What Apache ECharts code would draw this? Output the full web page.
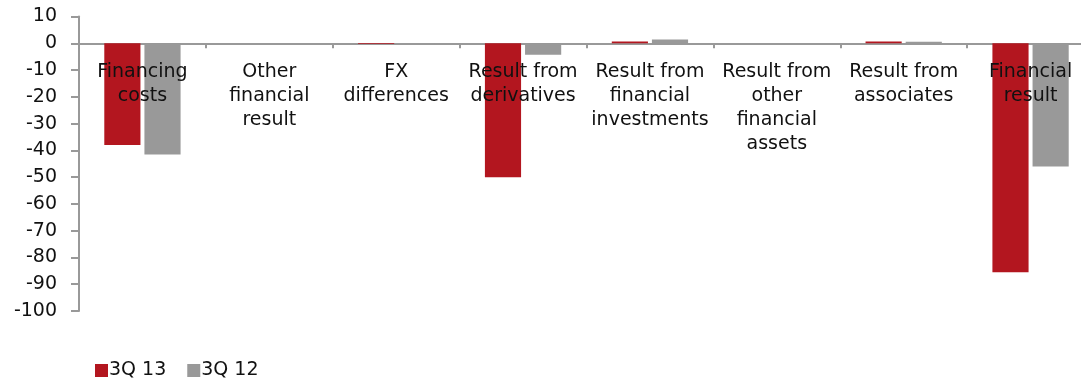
<!DOCTYPE html>
<html>
<head>
<meta charset="utf-8">
<script src="https://cdn.jsdelivr.net/npm/echarts@6/dist/echarts.min.js"></script>
<style>
html,body{margin:0;padding:0;background:#fff;}
#chart{width:1081px;height:383px;}
</style>
</head>
<body>
<div id="chart"></div>
<script>
const categories = [
  "Financing\ncosts",
  "Other\nfinancial\nresult",
  "FX\ndifferences",
  "Result from\nderivatives",
  "Result from\nfinancial\ninvestments",
  "Result from\nother\nfinancial\nassets",
  "Result from\nassociates",
  "Financial\nresult"
];
const seriesNames = ["3Q 13", "3Q 12"];
const values3Q13 = [-38, 0, -0.3, -50, 0.7, 0, 0.7, -85.5];
const values3Q12 = [-41.5, 0, -0.2, -4.3, 1.4, -0.2, 0.6, -46];
const yTicks = { min: -100, max: 10, interval: 10 };

const font = "DejaVu Sans, Verdana, sans-serif";
const chart = echarts.init(document.getElementById('chart'));
chart.setOption({
  animation: false,
  textStyle: { fontFamily: font },
  grid: { left: 79, top: 16.5, bottom: 72, right: -13, containLabel: false, outerBoundsMode: 'none' },
  legend: {
    left: 90, bottom: -2,
    icon: 'rect', itemWidth: 13, itemHeight: 13, itemGap: 21,
    textStyle: { fontFamily: font, fontSize: 19, color: '#111', padding: [0,0,0,-4] },
    data: seriesNames
  },
  xAxis: [{
    type: 'category',
    data: categories,
    axisLine: { onZero: true, lineStyle: { color: '#999', width: 2 } },
    axisTick: { show: true, length: 5, lineStyle: { color: '#999', width: 2 } },
    axisLabel: { show: false },
    splitLine: { show: false }
  }, {
    type: 'category',
    data: categories,
    position: 'top',
    z: 10,
    axisLine: { show: false },
    axisTick: { show: false },
    axisLabel: {
      inside: true, interval: 0, margin: 43.5, fontSize: 19, lineHeight: 24,
      color: '#111', fontFamily: font, align: 'center', verticalAlign: 'top'
    },
    splitLine: { show: false }
  }],
  yAxis: {
    type: 'value',
    min: yTicks.min, max: yTicks.max, interval: yTicks.interval,
    axisLine: { show: true, lineStyle: { color: '#999', width: 2 } },
    axisTick: { show: true, length: 8, lineStyle: { color: '#999', width: 2 } },
    axisLabel: { margin: 22, fontSize: 19, color: '#111', fontFamily: font },
    splitLine: { show: false }
  },
  series: [
    { name: seriesNames[0], type: 'bar', data: values3Q13, barWidth: '28.5%', barGap: '11%',
      itemStyle: { color: '#B3161F' } },
    { name: seriesNames[1], type: 'bar', data: values3Q12, barWidth: '28.5%', barGap: '11%',
      itemStyle: { color: '#999999' } }
  ]
});
</script>
</body>
</html>
